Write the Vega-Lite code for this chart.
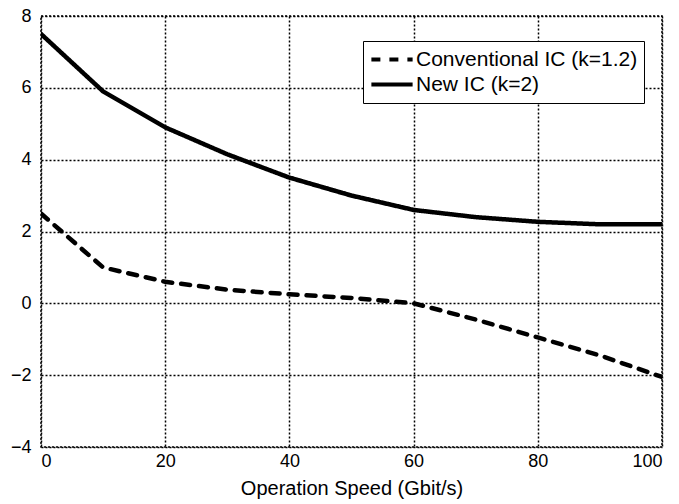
{
  "$schema": "https://vega.github.io/schema/vega-lite/v6.json",
  "width": 621,
  "height": 431,
  "autosize": {"type": "none"},
  "padding": {"left": 41, "top": 16, "right": 17, "bottom": 57},
  "background": "white",
  "config": {
    "font": "Liberation Sans",
    "view": {"stroke": "black", "strokeDash": [2, 2], "strokeWidth": 1.5}
  },
  "data": {
    "values": [
      {"speed": 0, "value": 7.5, "series": "New IC (k=2)"},
      {"speed": 10, "value": 5.9, "series": "New IC (k=2)"},
      {"speed": 20, "value": 4.9, "series": "New IC (k=2)"},
      {"speed": 30, "value": 4.15, "series": "New IC (k=2)"},
      {"speed": 40, "value": 3.5, "series": "New IC (k=2)"},
      {"speed": 50, "value": 3.0, "series": "New IC (k=2)"},
      {"speed": 60, "value": 2.6, "series": "New IC (k=2)"},
      {"speed": 70, "value": 2.4, "series": "New IC (k=2)"},
      {"speed": 80, "value": 2.27, "series": "New IC (k=2)"},
      {"speed": 90, "value": 2.2, "series": "New IC (k=2)"},
      {"speed": 100, "value": 2.2, "series": "New IC (k=2)"},
      {"speed": 0, "value": 2.5, "series": "Conventional IC (k=1.2)"},
      {"speed": 10, "value": 1.0, "series": "Conventional IC (k=1.2)"},
      {"speed": 20, "value": 0.6, "series": "Conventional IC (k=1.2)"},
      {"speed": 30, "value": 0.38, "series": "Conventional IC (k=1.2)"},
      {"speed": 40, "value": 0.25, "series": "Conventional IC (k=1.2)"},
      {"speed": 50, "value": 0.15, "series": "Conventional IC (k=1.2)"},
      {"speed": 60, "value": 0.0, "series": "Conventional IC (k=1.2)"},
      {"speed": 70, "value": -0.45, "series": "Conventional IC (k=1.2)"},
      {"speed": 80, "value": -0.95, "series": "Conventional IC (k=1.2)"},
      {"speed": 90, "value": -1.45, "series": "Conventional IC (k=1.2)"},
      {"speed": 100, "value": -2.05, "series": "Conventional IC (k=1.2)"}
    ]
  },
  "mark": {"type": "line", "color": "black", "strokeWidth": 4.5, "strokeCap": "round", "clip": true},
  "encoding": {
    "x": {
      "field": "speed", "type": "quantitative",
      "scale": {"domain": [0, 100], "nice": false},
      "axis": {
        "values": [0, 20, 40, 60, 80, 100],
        "title": "Operation Speed (Gbit/s)",
        "titleFontSize": 20, "titleFontWeight": "normal", "titleColor": "black", "titlePadding": 8,
        "labelFontSize": 18, "labelColor": "black", "labelPadding": 5,
        "ticks": false, "domain": false,
        "grid": true, "gridColor": "black", "gridDash": [2, 2], "gridWidth": 1.5, "gridOpacity": 1
      }
    },
    "y": {
      "field": "value", "type": "quantitative",
      "scale": {"domain": [-4, 8], "nice": false},
      "axis": {
        "values": [-4, -2, 0, 2, 4, 6, 8],
        "title": null,
        "labelFontSize": 18, "labelColor": "black", "labelPadding": 10,
        "ticks": false, "domain": false,
        "grid": true, "gridColor": "black", "gridDash": [2, 2], "gridWidth": 1.5, "gridOpacity": 1
      }
    },
    "strokeDash": {
      "field": "series", "type": "nominal",
      "scale": {"domain": ["Conventional IC (k=1.2)", "New IC (k=2)"], "range": [[9, 9], [1, 0]]},
      "legend": {
        "title": null,
        "orient": "none",
        "legendX": 322,
        "legendY": 25,
        "fillColor": "white",
        "strokeColor": "black",
        "padding": 6,
        "labelFontSize": 21,
        "labelColor": "black",
        "labelOffset": 1,
        "labelLimit": 400,
        "symbolType": "stroke",
        "symbolStrokeColor": "black",
        "symbolStrokeWidth": 4,
        "symbolSize": 1700,
        "clipHeight": 25,
        "rowPadding": 0
      }
    }
  }
}
